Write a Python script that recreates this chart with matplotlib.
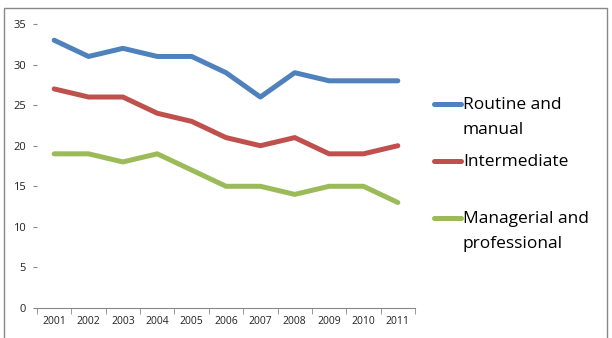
import matplotlib
matplotlib.use("Agg")
import matplotlib.pyplot as plt
from matplotlib.lines import Line2D
from matplotlib.patches import Rectangle

plt.rcParams['font.family'] = ['Open Sans', 'DejaVu Sans']

years = ['2001', '2002', '2003', '2004', '2005', '2006',
         '2007', '2008', '2009', '2010', '2011']
routine = [33, 31, 32, 31, 31, 29, 26, 29, 28, 28, 28]
intermediate = [27, 26, 26, 24, 23, 21, 20, 21, 19, 19, 20]
managerial = [19, 19, 18, 19, 17, 15, 15, 14, 15, 15, 13]

names = ['Routine and\nmanual', 'Intermediate', 'Managerial and\nprofessional']
colors = ['#4F81BD', '#C0504D', '#9BBB59']
series = [routine, intermediate, managerial]

fig = plt.figure(figsize=(6.12, 3.38), dpi=100)
ax = fig.add_axes([37 / 612, 1 - 308 / 338, (415 - 37) / 612, (308 - 24) / 338])

x = list(range(len(years)))
for vals, c in zip(series, colors):
    ax.plot(x, vals, color=c, lw=3.6, solid_capstyle='round', solid_joinstyle='round')

ax.set_xlim(-0.5, len(years) - 0.5)
ax.set_ylim(0, 35)
ax.set_yticks(range(0, 36, 5))
ax.set_xticks(x)
ax.set_xticklabels(years)
ax.set_xticks([i - 0.5 for i in range(len(years) + 1)], minor=True)
ax.tick_params(axis='x', which='major', length=0, labelsize=7.5, pad=6, labelcolor='#222222')
ax.tick_params(axis='x', which='minor', length=4, color='#888888', direction='out')
ax.tick_params(axis='y', length=3, color='#888888', labelsize=8, pad=5, labelcolor='#222222')
for s in ['top', 'right', 'left']:
    ax.spines[s].set_visible(False)
ax.spines['bottom'].set_color('#888888')

# legend drawn by hand, Excel style
leg_y = [104, 161, 218]
for name, c, yy in zip(names, colors, leg_y):
    fy = 1 - yy / 338
    fig.add_artist(Line2D([434 / 612, 461 / 612], [fy, fy], color=c, lw=3.6,
                          solid_capstyle='round', transform=fig.transFigure))
    fig.text(463 / 612, fy + 7 / 338, name, fontsize=12.5, va='top', ha='left',
             linespacing=1.75)

# chart area border
fig.add_artist(Rectangle((4 / 612, -0.05), (607 - 4) / 612, 1.05 - 8 / 338,
                         fill=False, edgecolor='#888888', lw=1, transform=fig.transFigure))

fig.savefig('out.png', dpi=100)
